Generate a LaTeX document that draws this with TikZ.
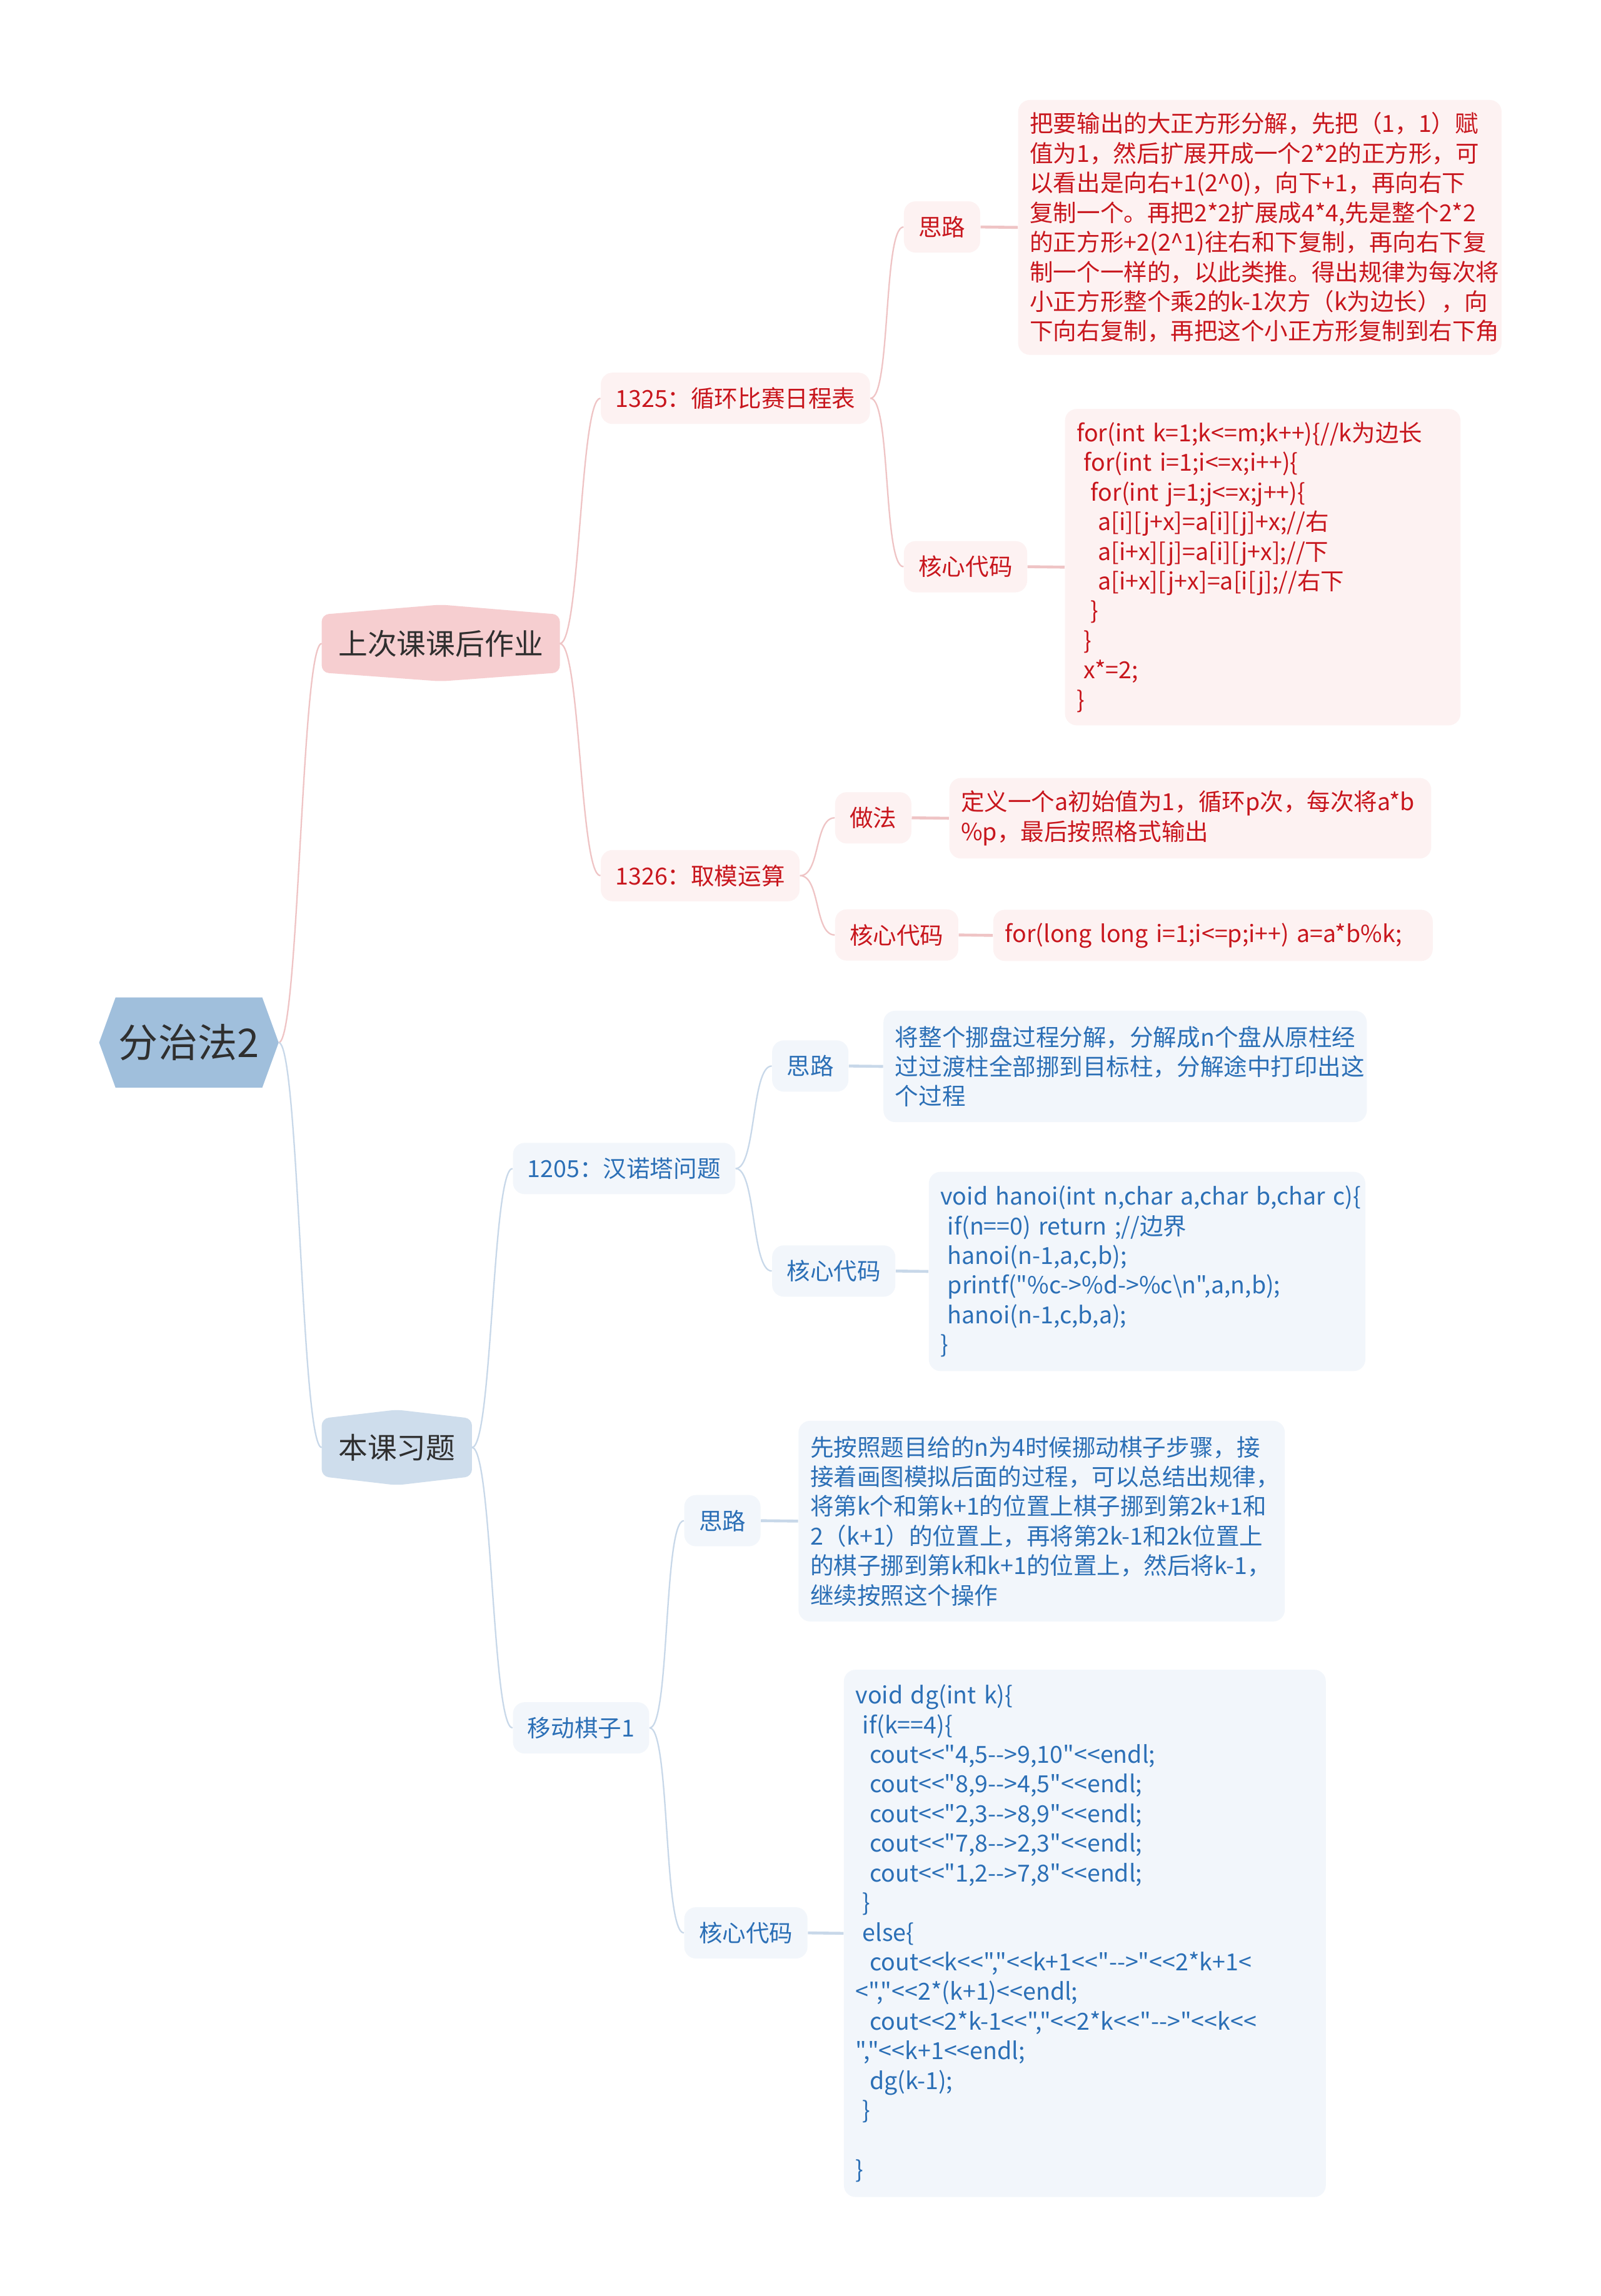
\documentclass[tikz,border=0pt]{standalone}
\usepackage{fontspec}
\setmainfont{Noto Sans CJK SC}[Ligatures=TeXOff]
\usetikzlibrary{backgrounds}

\definecolor{rootfill}{HTML}{A0BFDC}
\definecolor{hwfill}{HTML}{F6CED0}
\definecolor{exfill}{HTML}{CEDDEC}
\definecolor{inkdark}{HTML}{2F2F2F}
\definecolor{redink}{HTML}{C8161D}
\definecolor{redbg}{HTML}{FDF2F2}
\definecolor{redline}{HTML}{EFC4C5}
\definecolor{blueink}{HTML}{2B6FB6}
\definecolor{bluebg}{HTML}{F2F6FB}
\definecolor{blueline}{HTML}{C8D8E9}

\newcommand{\codeind}[1]{\hspace*{#1em}}
\exhyphenpenalty=10000
\hyphenpenalty=10000

\begin{document}
\begin{tikzpicture}[
  x=0.025cm, y=-0.025cm,
  rootnd/.style ={minimum width=3.05cm, minimum height=1.525cm, inner sep=0pt,
                  text=inkdark, font=\fontsize{19.2}{23}\selectfont},
  topnd/.style  ={minimum height=0.975cm, inner sep=0pt, text=inkdark,
                  font=\fontsize{14.2}{17}\selectfont},
  % small boxes of levels 2 and 3 ---------------------------------
  subbox/.style ={anchor=west, rounded corners=0.2cm, minimum height=0.875cm,
                  inner xsep=0.25cm, inner ysep=0pt,
                  font=\fontsize{11.4}{14.4}\selectfont},
  redsub/.style ={subbox, fill=redbg, text=redink},
  bluesub/.style={subbox, fill=bluebg, text=blueink},
  % text boxes at the leaves ---------------------------------------
  detailbox/.style={anchor=north west, rounded corners=0.2cm, align=left,
                  inner xsep=0.2cm, inner ysep=0pt,
                  font=\fontsize{11.4}{14.4}\selectfont},
  rednote/.style ={detailbox, fill=redbg, text=redink},
  bluenote/.style={detailbox, fill=bluebg, text=blueink},
  % connectors -----------------------------------------------------
  redln/.style  ={draw=redline, line width=0.7pt},
  blueln/.style ={draw=blueline, line width=0.7pt},
  leaflink/.style={line width=1.4pt},
  bendlink/.style={to path={.. controls +(14,0) and +(-14,0) .. (\tikztotarget)}},
]

% =========================== CANVAS =================================
\useasboundingbox (0,0) rectangle (1093,1568);

% ======================= ROOT AND LEVEL 1 ===========================
\node[rootnd] (root) at (129,712) {分治法2};
\node[topnd, minimum width=4.05cm] (hw) at (301,439.5) {上次课课后作业};
\node[topnd, minimum width=2.55cm] (ex) at (271,988.5) {本课习题};

% =========================== LEVEL 2 ================================
\node[redsub]  (p1325) at (410,272)  {1325：循环比赛日程表};
\node[redsub]  (p1326) at (410,598)  {1326：取模运算};
\node[bluesub] (p1205) at (350,798)  {1205：汉诺塔问题};
\node[bluesub] (pmove) at (350,1180) {移动棋子1};

% =========================== LEVEL 3 ================================
\node[redsub]  (s1325) at (617,155)    {思路};
\node[redsub]  (c1325) at (617,387)    {核心代码};
\node[redsub]  (m1326) at (570,558.5)  {做法};
\node[redsub]  (c1326) at (570,638.5)  {核心代码};
\node[bluesub] (s1205) at (527,728)    {思路};
\node[bluesub] (c1205) at (527,868)    {核心代码};
\node[bluesub] (smove) at (467,1038.5) {思路};
\node[bluesub] (cmove) at (467,1320)   {核心代码};

% ======================= LEAVES (red branch) ========================
\node[rednote, text width=7.85cm, minimum height=4.35cm] (d1325s) at (695,68)
  {把要输出的大正方形分解，先把（1，1）赋\\
   值为1，然后扩展开成一个2*2的正方形，可\\
   以看出是向右+1(2\textasciicircum0)，向下+1，再向右下\\
   复制一个。再把2*2扩展成4*4,先是整个2*2\\
   的正方形+2(2\textasciicircum1)往右和下复制，再向右下复\\
   制一个一样的，以此类推。得出规律为每次将\\
   小正方形整个乘2的k-1次方（k为边长），向\\
   下向右复制，再把这个小正方形复制到右下角};
\node[rednote, text width=6.35cm, minimum height=5.4cm] (d1325c) at (727,279)
  {for(int~k=1;k<=m;k++)\{//k为边长\\
   \codeind{0.3}for(int~i=1;i<=x;i++)\{\\
   \codeind{0.6}for(int~j=1;j<=x;j++)\{\\
   \codeind{0.9}a[i][j+x]=a[i][j]+x;//右\\
   \codeind{0.9}a[i+x][j]=a[i][j+x];//下\\
   \codeind{0.9}a[i+x][j+x]=a[i[j];//右下\\
   \codeind{0.6}\}\\
   \codeind{0.3}\}\\
   \codeind{0.3}x*=2;\\
   \}};
\node[rednote, text width=7.825cm, minimum height=1.375cm] (d1326m) at (648,531)
  {定义一个a初始值为1，循环p次，每次将a*b\\
   \%p，最后按照格式输出};
\node[rednote, text width=7.1cm, minimum height=0.875cm] (d1326c) at (678,621)
  {for(long~long~i=1;i<=p;i++)~a=a*b\%k;};

% ======================= LEAVES (blue branch) =======================
\node[bluenote, text width=7.85cm, minimum height=1.9cm] (d1205s) at (603,690)
  {将整个挪盘过程分解，分解成n个盘从原柱经\\
   过过渡柱全部挪到目标柱，分解途中打印出这\\
   个过程};
\node[bluenote, text width=7.05cm, minimum height=3.4cm] (d1205c) at (634,800)
  {void~hanoi(int~n,char~a,char~b,char~c)\{\\
   \codeind{0.3}if(n==0)~return~;//边界\\
   \codeind{0.3}hanoi(n-1,a,c,b);\\
   \codeind{0.3}printf("\%c->\%d->\%c\textbackslash n",a,n,b);\\
   \codeind{0.3}hanoi(n-1,c,b,a);\\
   \}};
\node[bluenote, text width=7.9cm, minimum height=3.425cm] (dmoves) at (545,970)
  {先按照题目给的n为4时候挪动棋子步骤，接\\
   接着画图模拟后面的过程，可以总结出规律，\\
   将第k个和第k+1的位置上棋子挪到第2k+1和\\
   2（k+1）的位置上，再将第2k-1和2k位置上\\
   的棋子挪到第k和k+1的位置上，然后将\mbox{k-1，}\\
   继续按照这个操作};
\node[bluenote, text width=7.825cm, minimum height=9.0cm] (dmovec) at (576,1140)
  {void~dg(int~k)\{\\
   \codeind{0.3}if(k==4)\{\\
   \codeind{0.6}cout<<"4,5-->9,10"<<endl;\\
   \codeind{0.6}cout<<"8,9-->4,5"<<endl;\\
   \codeind{0.6}cout<<"2,3-->8,9"<<endl;\\
   \codeind{0.6}cout<<"7,8-->2,3"<<endl;\\
   \codeind{0.6}cout<<"1,2-->7,8"<<endl;\\
   \codeind{0.3}\}\\
   \codeind{0.3}else\{\\
   \codeind{0.6}cout<<k<<","<<k+1<<"-->"<<2*k+1<\\
   <","<<2*(k+1)<<endl;\\
   \codeind{0.6}cout<<2*k-1<<","<<2*k<<"-->"<<k<<\\
   ","<<k+1<<endl;\\
   \codeind{0.6}dg(k-1);\\
   \codeind{0.3}\}\\
   \mbox{}\\
   \}};

% ================ SHAPES BEHIND ROOT AND LEVEL 1 ====================
\begin{scope}[on background layer]
  \fill[white] (0,0) rectangle (1093,1568);
  % root: flat top and bottom, pointed ends
  \fill[rootfill] (root.west) -- ([xshift=0.28cm]root.north west)
        -- ([xshift=-0.28cm]root.north east) -- (root.east)
        -- ([xshift=-0.28cm]root.south east) -- ([xshift=0.28cm]root.south west) -- cycle;
  % level 1: low peak on top and bottom
  \fill[hwfill, rounded corners=0.12cm] (hw.north west) -- ([yshift=0.17cm]hw.north)
        -- (hw.north east) -- (hw.south east) -- ([yshift=-0.15cm]hw.south)
        -- (hw.south west) -- cycle;
  \fill[exfill, rounded corners=0.12cm] (ex.north west) -- ([yshift=0.15cm]ex.north)
        -- (ex.north east) -- (ex.south east) -- ([yshift=-0.15cm]ex.south)
        -- (ex.south west) -- cycle;
\end{scope}

% ======================= CONNECTORS (red) ===========================
\draw[redln, bendlink] (root.east) to (hw.west);
\draw[redln, bendlink] (hw.east) to (p1325.west);
\draw[redln, bendlink] (hw.east) to (p1326.west);
\draw[redln, bendlink] (p1325.east) to (s1325.west);
\draw[redln, bendlink] (p1325.east) to (c1325.west);
\draw[redln, bendlink] (p1326.east) to (m1326.west);
\draw[redln, bendlink] (p1326.east) to (c1326.west);
% level 3 -> leaves
\draw[redln, leaflink] (s1325.east) -- (d1325s.west);
\draw[redln, leaflink] (c1325.east) -- (d1325c.west);
\draw[redln, leaflink] (m1326.east) -- (d1326m.west);
\draw[redln, leaflink] (c1326.east) -- (d1326c.west);

% ======================= CONNECTORS (blue) ==========================
\draw[blueln, bendlink] (root.east) to (ex.west);
\draw[blueln, bendlink] (ex.east) to (p1205.west);
\draw[blueln, bendlink] (ex.east) to (pmove.west);
\draw[blueln, bendlink] (p1205.east) to (s1205.west);
\draw[blueln, bendlink] (p1205.east) to (c1205.west);
\draw[blueln, bendlink] (pmove.east) to (smove.west);
\draw[blueln, bendlink] (pmove.east) to (cmove.west);
% level 3 -> leaves
\draw[blueln, leaflink] (s1205.east) -- (d1205s.west);
\draw[blueln, leaflink] (c1205.east) -- (d1205c.west);
\draw[blueln, leaflink] (smove.east) -- (dmoves.west);
\draw[blueln, leaflink] (cmove.east) -- (dmovec.west);

\end{tikzpicture}
\end{document}
